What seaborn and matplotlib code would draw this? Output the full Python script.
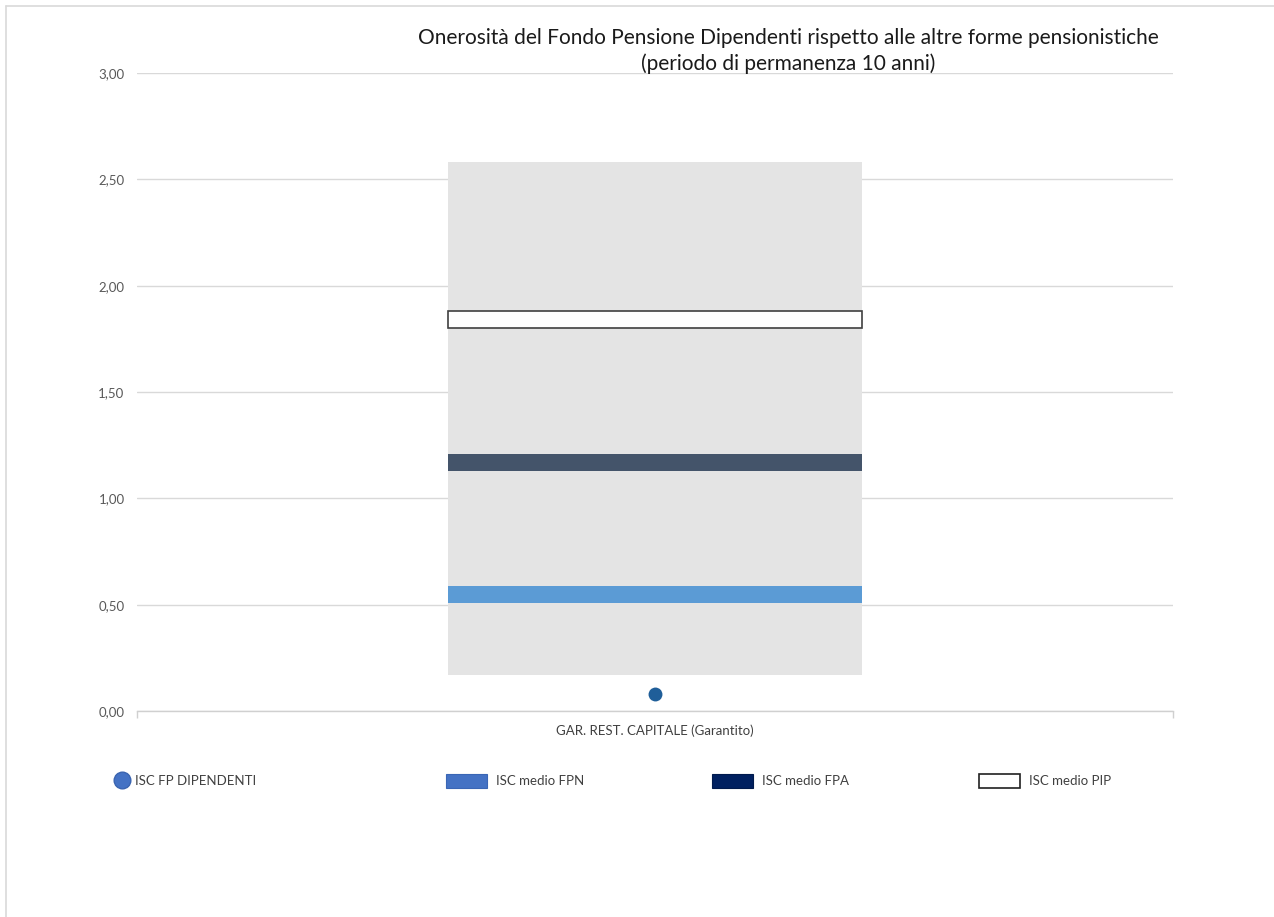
import matplotlib
matplotlib.use("Agg")
import matplotlib.pyplot as plt
import seaborn as sns
from matplotlib.patches import Patch
from matplotlib.lines import Line2D
from matplotlib.ticker import FuncFormatter

# ---- data ----
categories = ["GAR. REST. CAPITALE (Garantito)"]
range_min = [0.17]
range_max = [2.58]
isc_fp_dipendenti = [0.08]
isc_medio_fpn = [0.55]
isc_medio_fpa = [1.17]
isc_medio_pip = [1.84]
y_ticks = [0.0, 0.5, 1.0, 1.5, 2.0, 2.5, 3.0]

title_text = ("Onerosità del Fondo Pensione Dipendenti rispetto alle altre forme pensionistiche\n"
              "(periodo di permanenza 10 anni)")
legend_labels = ["ISC FP DIPENDENTI", "ISC medio FPN", "ISC medio FPA", "ISC medio PIP"]

sns.set_theme(style="white")
plt.rcParams["font.family"] = ["Lato", "DejaVu Sans"]

fig = plt.figure(figsize=(12.74, 9.17), dpi=100)
ax = fig.add_axes([137 / 1274, 1 - 711 / 917, (1173 - 137) / 1274, (711 - 73) / 917])

band = 0.08
bar_w = 0.4

# grey range
sns.barplot(x=categories, y=[mx - mn for mx, mn in zip(range_max, range_min)],
            bottom=range_min, color="#E4E4E4", width=bar_w, saturation=1,
            linewidth=0, ax=ax, zorder=2)
# FPN band
sns.barplot(x=categories, y=[band] * len(categories),
            bottom=[v - band / 2 for v in isc_medio_fpn], color="#5B9BD5",
            width=bar_w, saturation=1, linewidth=0, ax=ax, zorder=3)
# FPA band
sns.barplot(x=categories, y=[band] * len(categories),
            bottom=[v - band / 2 for v in isc_medio_fpa], color="#44546A",
            width=bar_w, saturation=1, linewidth=0, ax=ax, zorder=3)
# PIP band
sns.barplot(x=categories, y=[band] * len(categories),
            bottom=[v - band / 2 for v in isc_medio_pip], color="white",
            edgecolor="#404040", linewidth=1.2, width=bar_w, saturation=1,
            fill=True, ax=ax, zorder=3)
# FP dipendenti point
sns.stripplot(x=categories, y=isc_fp_dipendenti, jitter=False, size=10,
              color="#1F5E99", ax=ax, zorder=4)

ax.set_xlim(-0.5, 0.5)
ax.set_ylim(0, 3.0)
ax.set_yticks(y_ticks)
ax.yaxis.set_major_formatter(FuncFormatter(lambda v, p: f"{v:.2f}".replace(".", ",")))
ax.grid(axis="y", color="#D9D9D9", linewidth=1, zorder=0)
ax.grid(axis="x", visible=False)
ax.set_axisbelow(True)
for s in ["top", "right", "left"]:
    ax.spines[s].set_visible(False)
ax.spines["bottom"].set_color("#D0D0D0")
ax.spines["bottom"].set_linewidth(1)
ax.tick_params(axis="y", length=0, pad=9, labelsize=9.5, labelcolor="#595959")
ax.tick_params(axis="x", length=0, pad=10, labelsize=9.5, labelcolor="#404040")
ax.set_xticks([-0.5, 0.5], minor=True)
ax.tick_params(axis="x", which="minor", length=5, color="#D0D0D0", bottom=True)
ax.set_xlabel("")
ax.set_ylabel("")

fig.text(788 / 1274, 1 - 51 / 917, title_text, ha="center", va="center",
         fontsize=15, color="#1a1a1a", linespacing=1.35)

handles = [
    Line2D([0], [0], marker="o", linestyle="none", markersize=12,
           markerfacecolor="#4472C4", markeredgecolor="#3a64b0"),
    Patch(facecolor="#4472C4", edgecolor="#3A66B5", linewidth=0.8),
    Patch(facecolor="#002060", edgecolor="#001a4d", linewidth=0.8),
    Patch(facecolor="white", edgecolor="#202020", linewidth=1.2),
]
xpos = [115, 446, 712, 979]
for h, lab, xp, i in zip(handles, legend_labels, xpos, range(4)):
    leg = fig.legend([h], [lab], loc="center left",
                     bbox_to_anchor=(xp / 1274, 1 - 781 / 917),
                     frameon=False, fontsize=9.5, handlelength=(1.0 if i == 0 else 3.1),
                     handleheight=1.2, handletextpad=(0.5 if i == 0 else 0.7),
                     borderpad=0, borderaxespad=0)
    for t in leg.get_texts():
        t.set_color("#404040")

# outer border (top and left)
fig.add_artist(Line2D([6 / 1274, 1], [1 - 6 / 917, 1 - 6 / 917], color="#D9D9D9",
                      linewidth=1.2, transform=fig.transFigure))
fig.add_artist(Line2D([6 / 1274, 6 / 1274], [0, 1 - 6 / 917], color="#D9D9D9",
                      linewidth=1.2, transform=fig.transFigure))

fig.savefig("out.png", dpi=100)
